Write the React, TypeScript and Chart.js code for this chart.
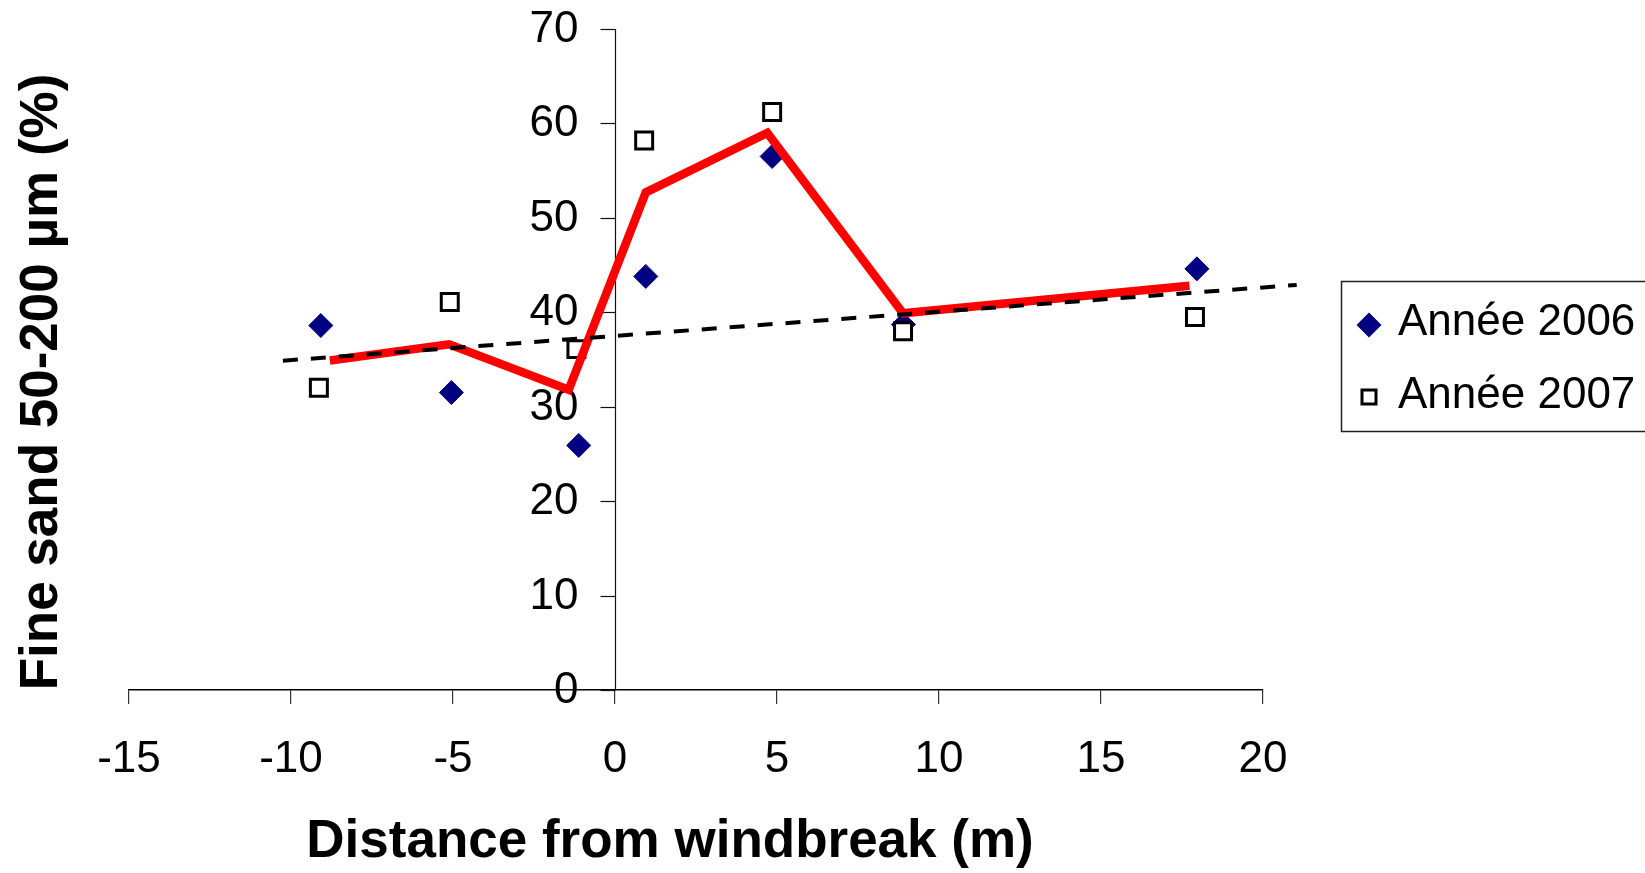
import React, { useEffect, useRef } from 'react';
import { Chart, registerables } from 'chart.js';

Chart.register(...registerables);

// ---- data ----
const xTicks = [-15, -10, -5, 0, 5, 10, 15, 20];
const yTicks = [0, 10, 20, 30, 40, 50, 60, 70];

const dist2006 = [-9.08, -5.05, -1.12, 0.95, 4.85, 8.9, 17.96];
const sand2006 = [38.6, 31.5, 25.9, 43.8, 56.5, 38.7, 44.6];

const dist2007 = [-9.14, -5.1, -1.19, 0.9, 4.85, 8.89, 17.9];
const sand2007 = [32.0, 41.1, 36.1, 58.2, 61.2, 38.0, 39.5];

const meanDist = [-8.8, -5.12, -1.43, 0.95, 4.7, 8.89, 17.73];
const meanSand = [34.9, 36.6, 31.8, 52.7, 59.0, 39.9, 42.8];

const trendDist = [-10.25, 21.04];
const trendSand = [34.87, 42.9];

const legendLabels = ['Année 2006', 'Année 2007'];
const xTitle = 'Distance from windbreak (m)';
const yTitle = 'Fine sand 50-200 µm (%)';

const FONT = '"Liberation Sans", Arial, Helvetica, sans-serif';

const pts = (xs: number[], ys: number[]) => xs.map((x, i) => ({ x, y: ys[i] }));

const decorPlugin = {
  id: 'decor',
  beforeDatasetsDraw(chart: any) {
    const { ctx, scales } = chart;
    const xs = scales.x;
    const ys = scales.y;
    const x0 = Math.round(xs.getPixelForValue(0)) + 0.5;
    ctx.save();
    ctx.strokeStyle = '#111';
    ctx.lineWidth = 1.2;
    ctx.beginPath();
    ctx.moveTo(x0, ys.getPixelForValue(yTicks[yTicks.length - 1]));
    ctx.lineTo(x0, ys.getPixelForValue(0));
    ctx.stroke();
    ctx.font = `44px ${FONT}`;
    ctx.fillStyle = '#000';
    ctx.textAlign = 'right';
    ctx.textBaseline = 'middle';
    yTicks.forEach((v) => {
      const y = Math.round(ys.getPixelForValue(v)) + 0.5;
      ctx.beginPath();
      ctx.moveTo(x0 - 15, y);
      ctx.lineTo(x0, y);
      ctx.stroke();
      ctx.fillText(String(v), x0 - 37, y);
    });
    ctx.restore();
  },
  afterDraw(chart: any) {
    const { ctx } = chart;
    ctx.save();
    // axis titles
    ctx.fillStyle = '#000';
    ctx.font = `bold 53px ${FONT}`;
    ctx.textAlign = 'center';
    ctx.textBaseline = 'middle';
    ctx.fillText(xTitle, 670, 842);
    ctx.save();
    ctx.translate(42, 382);
    ctx.rotate(-Math.PI / 2);
    ctx.fillText(yTitle, 0, 0);
    ctx.restore();

    // legend
    ctx.strokeStyle = '#222';
    ctx.lineWidth = 1.5;
    ctx.strokeRect(1341.5, 281.5, 400, 150);
    // diamond
    const r = 12.5;
    ctx.fillStyle = '#000080';
    ctx.beginPath();
    ctx.moveTo(1369 - r, 325);
    ctx.lineTo(1369, 325 - r);
    ctx.lineTo(1369 + r, 325);
    ctx.lineTo(1369, 325 + r);
    ctx.closePath();
    ctx.fill();
    // square
    ctx.fillStyle = '#fff';
    ctx.strokeStyle = '#000';
    ctx.lineWidth = 3;
    ctx.fillRect(1362, 390, 14, 14);
    ctx.strokeRect(1362, 390, 14, 14);
    ctx.fillStyle = '#000';
    ctx.font = `44px ${FONT}`;
    ctx.textAlign = 'left';
    ctx.fillText(legendLabels[0], 1398, 323);
    ctx.fillText(legendLabels[1], 1398, 396);
    ctx.restore();
  },
};

export default function App() {
  const ref = useRef<HTMLCanvasElement | null>(null);
  useEffect(() => {
    document.body.style.margin = '0';
    const canvas = ref.current;
    if (!canvas) return;
    const chart = new Chart(canvas, {
      type: 'scatter',
      data: {
        datasets: [
          {
            label: 'trend',
            data: pts(trendDist, trendSand),
            showLine: true,
            borderColor: '#000',
            borderWidth: 4,
            borderDash: [15, 13],
            pointRadius: 0,
            clip: false,
            order: 0,
          } as any,
          {
            label: 'mean',
            data: pts(meanDist, meanSand),
            showLine: true,
            borderColor: '#ff0000',
            borderWidth: 8.5,
            pointRadius: 0,
            clip: false,
            order: 1,
          } as any,
          {
            label: legendLabels[1],
            data: pts(dist2007, sand2007),
            pointStyle: 'rect',
            pointRadius: 12,
            backgroundColor: '#fff',
            borderColor: '#000',
            borderWidth: 3,
            clip: false,
            order: 2,
          } as any,
          {
            label: legendLabels[0],
            data: pts(dist2006, sand2006),
            pointStyle: 'rectRot',
            pointRadius: 12,
            backgroundColor: '#000080',
            borderColor: '#000080',
            borderWidth: 1,
            clip: false,
            order: 3,
          } as any,
        ],
      },
      options: {
        responsive: false,
        animation: false,
        events: [],
        layout: { padding: { left: 129, right: 382, top: 29, bottom: 0 } },
        plugins: { legend: { display: false }, tooltip: { enabled: false }, title: { display: false } },
        scales: {
          x: {
            type: 'linear',
            min: -15,
            max: 20,
            afterBuildTicks: (s: any) => {
              s.ticks = xTicks.map((v) => ({ value: v }));
            },
            afterFit: (s: any) => {
              s.height = 183;
            },
            ticks: {
              font: { family: FONT, size: 44 },
              color: '#000',
              padding: 29,
              maxRotation: 0,
              autoSkip: false,
            },
            grid: {
              display: true,
              drawOnChartArea: false,
              drawTicks: true,
              tickLength: 14,
              color: '#333',
              lineWidth: 1.2,
            },
            border: { display: true, color: '#000', width: 1.5 },
          },
          y: {
            type: 'linear',
            min: 0,
            max: 70,
            display: false,
          },
        },
      } as any,
      plugins: [decorPlugin],
    });
    return () => chart.destroy();
  }, []);
  return (
    <div style={{ position: 'absolute', left: 0, top: 0, width: 1645, height: 873, background: '#fff' }}>
      <canvas ref={ref} width={1645} height={873} />
    </div>
  );
}
